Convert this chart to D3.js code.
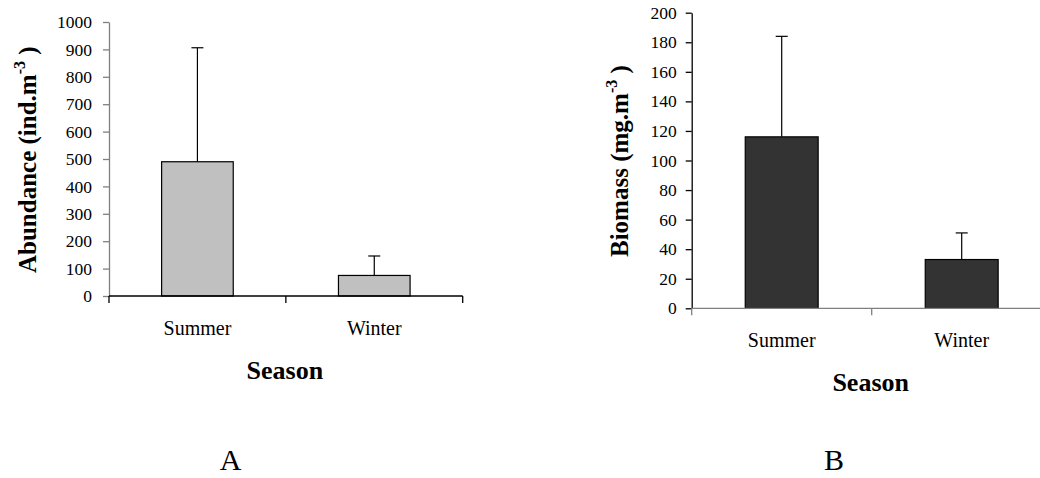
<!DOCTYPE html>
<html>
<head>
<meta charset="utf-8">
<script src="https://cdn.jsdelivr.net/npm/d3@7"></script>
<style>
  html, body { margin: 0; padding: 0; background: #fff; }
  svg { display: block; }
  svg text { font-family: "Liberation Serif", "Times New Roman", serif !important; fill: #000; }
</style>
</head>
<body>
<svg id="chart" width="1040" height="478"></svg>
<script>
// ---- data ----
const seasons = ["Summer", "Winter"];
const abundanceMean = [490, 75];
const abundanceSD = [416, 71];
const biomassMean = [116, 33];
const biomassSD = [68, 18];
const abundanceTicks = [0, 100, 200, 300, 400, 500, 600, 700, 800, 900, 1000];
const biomassTicks = [0, 20, 40, 60, 80, 100, 120, 140, 160, 180, 200];

const SERIF = '"Liberation Serif", "Times New Roman", serif';
const svg = d3.select("#chart");

function panel(cfg) {
  const g = svg.append("g");
  const x = d3.scaleBand().domain(seasons).range([cfg.x0, cfg.x1])
    .paddingInner(0.595).paddingOuter(0.2975);
  const y = d3.scaleLinear().domain(cfg.domain).range([cfg.y0, cfg.y1]);

  // bars
  g.selectAll("rect.bar").data(seasons).join("rect")
    .attr("class", "bar")
    .attr("x", d => x(d))
    .attr("width", x.bandwidth())
    .attr("y", (d, i) => y(cfg.mean[i]))
    .attr("height", (d, i) => y(0) - y(cfg.mean[i]))
    .attr("fill", cfg.fill)
    .attr("stroke", "#000")
    .attr("stroke-width", 1.2);

  // error bars (upper only)
  const eb = g.selectAll("g.err").data(seasons).join("g").attr("class", "err");
  eb.append("line")
    .attr("x1", d => x(d) + x.bandwidth() / 2)
    .attr("x2", d => x(d) + x.bandwidth() / 2)
    .attr("y1", (d, i) => y(cfg.mean[i]))
    .attr("y2", (d, i) => y(cfg.mean[i] + cfg.sd[i]))
    .attr("stroke", "#000").attr("stroke-width", 1.2);
  eb.append("line")
    .attr("x1", d => x(d) + x.bandwidth() / 2 - 6)
    .attr("x2", d => x(d) + x.bandwidth() / 2 + 6)
    .attr("y1", (d, i) => y(cfg.mean[i] + cfg.sd[i]))
    .attr("y2", (d, i) => y(cfg.mean[i] + cfg.sd[i]))
    .attr("stroke", "#000").attr("stroke-width", 1.2);

  // y axis
  const yAxis = d3.axisLeft(y).tickValues(cfg.ticks).tickFormat(d3.format("d"))
    .tickSize(6).tickPadding(cfg.tickPad).tickSizeOuter(0);
  const ya = g.append("g").attr("transform", `translate(${cfg.x0},0)`).call(yAxis)
    .attr("font-family", null).attr("font-size", null);
  ya.select(".domain").attr("stroke", cfg.yColor).attr("stroke-width", 1.3);
  ya.selectAll(".tick line").attr("stroke", cfg.yColor).attr("stroke-width", 1.3);
  ya.selectAll(".tick text")
    .style("font-size", "17.5px")
    .style("font-family", SERIF)
    .attr("fill", "#000");

  // x axis: ticks at category boundaries
  const xa = g.append("g").attr("transform", `translate(0,${y(0)})`);
  xa.append("line").attr("x1", cfg.x0).attr("x2", cfg.x1).attr("y1", 0).attr("y2", 0)
    .attr("stroke", cfg.xColor).attr("stroke-width", 1.3);
  const bounds = [x.range()[0], x(seasons[1]) - x.step() * x.paddingInner() / 2, x.range()[1]];
  xa.selectAll("line.xt").data(bounds).join("line").attr("class", "xt")
    .attr("x1", d => d).attr("x2", d => d).attr("y1", 0).attr("y2", 7)
    .attr("stroke", cfg.xColor).attr("stroke-width", 1.3);
  xa.selectAll("text.cat").data(seasons).join("text").attr("class", "cat")
    .attr("x", d => x(d) + x.bandwidth() / 2)
    .attr("y", 39)
    .attr("text-anchor", "middle")
    .style("font-size", "20px")
    .style("font-family", SERIF)
    .text(d => d);

  // x title
  g.append("text")
    .attr("x", (cfg.x0 + cfg.x1) / 2 - 1)
    .attr("y", y(0) + 83)
    .attr("text-anchor", "middle")
    .style("font-size", "26px")
    .style("font-weight", "bold")
    .style("font-family", SERIF)
    .text("Season");

  // y title
  const yt = g.append("text")
    .attr("transform", `translate(${cfg.labelX},${cfg.labelY}) rotate(-90)`)
    .attr("text-anchor", "start")
    .style("font-size", "25px")
    .style("font-weight", "bold")
    .style("font-family", SERIF);
  yt.append("tspan").text(cfg.label);
  yt.append("tspan").style("font-size", "16px").attr("dy", "-11").text("-3");
  yt.append("tspan").attr("dy", "11").text(" )");

  // panel letter
  svg.append("text")
    .attr("x", cfg.letterX).attr("y", 470)
    .attr("text-anchor", "middle")
    .style("font-size", "30px")
    .style("font-family", SERIF)
    .text(cfg.letter);
}

panel({
  x0: 109, x1: 462.7, y0: 296, y1: 22,
  domain: [0, 1000], ticks: abundanceTicks,
  mean: abundanceMean, sd: abundanceSD,
  fill: "#c0c0c0", yColor: "#808080", xColor: "#000", tickPad: 11,
  label: "Abundance (ind.m", labelX: 36, labelY: 273,
  letter: "A", letterX: 230.5
});

panel({
  x0: 691.7, x1: 1051.7, y0: 308.3, y1: 12.7,
  domain: [0, 200], ticks: biomassTicks,
  mean: biomassMean, sd: biomassSD,
  fill: "#333333", yColor: "#000", xColor: "#808080", tickPad: 9,
  label: "Biomass (mg.m", labelX: 628, labelY: 257,
  letter: "B", letterX: 834
});
</script>
</body>
</html>
